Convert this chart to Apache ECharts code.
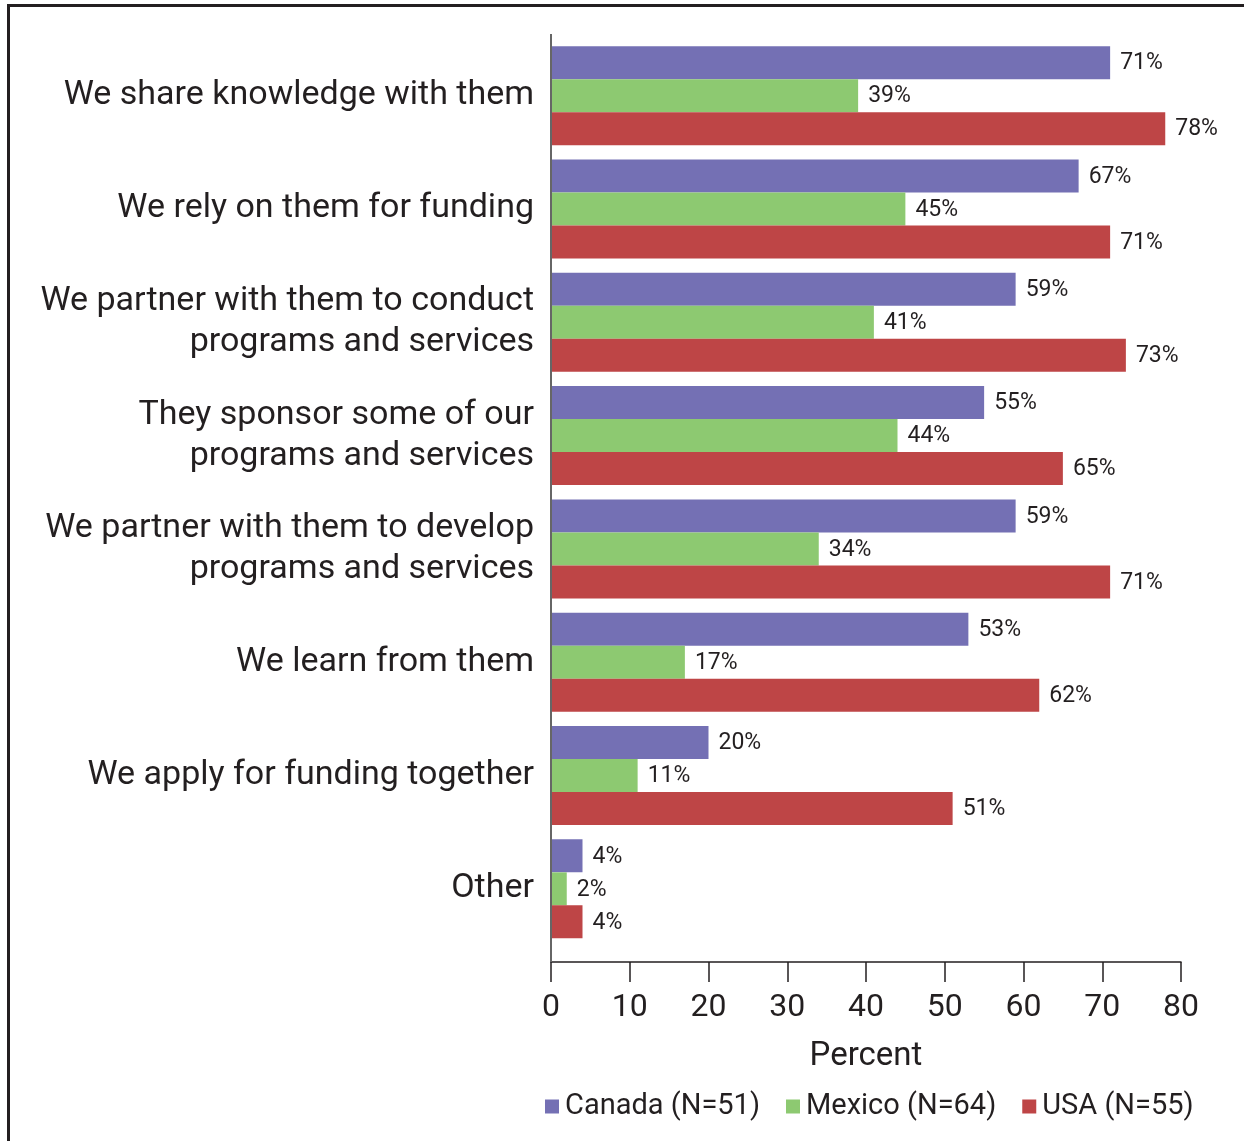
<!DOCTYPE html>
<html>
<head>
<meta charset="utf-8">
<script src="https://cdn.jsdelivr.net/npm/echarts@6/dist/echarts.min.js"></script>
<style>
html,body{margin:0;padding:0;background:#fff;}
#chart{width:1244px;height:1141px;}
</style>
</head>
<body>
<div id="chart"></div>
<script>
const categories = [
  "We share knowledge with them",
  "We rely on them for funding",
  "We partner with them to conduct\nprograms and services",
  "They sponsor some of our\nprograms and services",
  "We partner with them to develop\nprograms and services",
  "We learn from them",
  "We apply for funding together",
  "Other"
];
const canada = [71, 67, 59, 55, 59, 53, 20, 4];
const mexico = [39, 45, 41, 44, 34, 17, 11, 2];
const usa = [78, 71, 73, 65, 71, 62, 51, 4];
const seriesNames = ["Canada (N=51)", "Mexico (N=64)", "USA (N=55)"];
const xTicks = [0, 10, 20, 30, 40, 50, 60, 70, 80];

const colors = ["#7470B4", "#8DC971", "#BE4546"];
const gridLeft = 551, gridRight = 1181, gridTop = 39, gridBottom = 945.5, axisY = 962;
const font = "Roboto, 'Noto Sans', sans-serif";

const chart = echarts.init(document.getElementById('chart'));
function mkSeries(name, data, color) {
  return {
    name: name, type: 'bar', data: data,
    barWidth: 33, barGap: '0%',
    itemStyle: { color: color },
    label: {
      show: true, position: 'right', distance: 10, offset: [0, 1],
      formatter: '{c}%', fontSize: 23, color: '#231F20', fontFamily: font
    }
  };
}
chart.setOption({
  animation: false,
  textStyle: { fontFamily: font },
  grid: { left: gridLeft, right: 1244 - gridRight, top: gridTop, bottom: 1141 - gridBottom, containLabel: false },
  legend: {
    data: seriesNames, bottom: 15, left: 540, itemWidth: 14, itemHeight: 14, itemGap: 26,
    icon: 'rect',
    textStyle: { fontSize: 29, color: '#231F20', fontFamily: font, padding: [0, 0, 0, 1] }
  },
  xAxis: {
    type: 'value', min: 0, max: 80, interval: 10, offset: axisY - gridBottom,
    name: 'Percent', nameLocation: 'middle', nameGap: 78,
    nameTextStyle: { fontSize: 33, color: '#231F20', fontFamily: font },
    axisLine: { show: true, lineStyle: { color: '#231F20', width: 1.5 } },
    axisTick: { show: true, length: 20, lineStyle: { color: '#231F20', width: 1.5 } },
    axisLabel: { fontSize: 32, color: '#231F20', margin: 30, fontFamily: font,
      formatter: function (v) { return xTicks.indexOf(v) >= 0 ? String(v) : ''; } },
    splitLine: { show: false }
  },
  yAxis: {
    type: 'category', data: categories, inverse: true,
    axisLine: { show: false }, axisTick: { show: false },
    axisLabel: { fontSize: 34, color: '#231F20', margin: 17, lineHeight: 41, align: 'right', fontFamily: font }
  },
  series: [
    mkSeries(seriesNames[0], canada, colors[0]),
    mkSeries(seriesNames[1], mexico, colors[1]),
    mkSeries(seriesNames[2], usa, colors[2])
  ],
  graphic: [
    { type: 'line', shape: { x1: gridLeft, y1: 34, x2: gridLeft, y2: axisY }, style: { stroke: '#666', lineWidth: 2 }, z: 10 },
    { type: 'polyline', shape: { points: [[8.5, 1145], [8.5, 5.5], [1250, 5.5]] }, style: { stroke: '#231F20', lineWidth: 3, fill: null } }
  ]
});
</script>
</body>
</html>
